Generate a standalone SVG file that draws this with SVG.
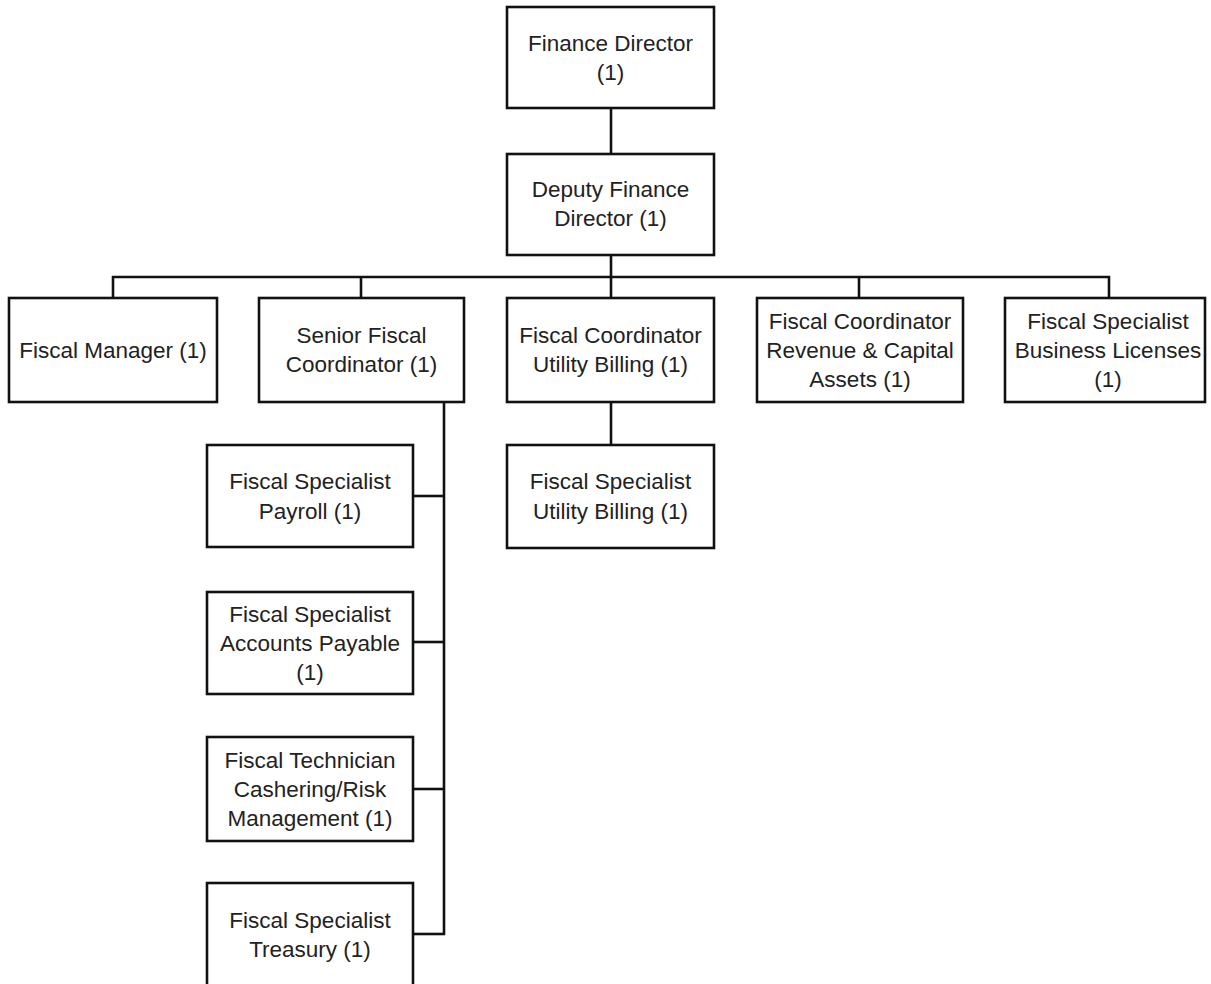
<svg xmlns="http://www.w3.org/2000/svg" width="1211" height="984" viewBox="0 0 1211 984">
<style>
rect.box{fill:#fff;stroke:#111;stroke-width:2.6}
text{font-family:"Liberation Sans",Arial,sans-serif;font-size:22.5px;fill:#222;text-anchor:middle;dominant-baseline:central}
.conn line{stroke:#111;stroke-width:2.6;fill:none}
</style>
<rect width="1211" height="984" fill="#fff"/>
<g class="conn" id="connectors">
<line x1="611" y1="108" x2="611" y2="154"/>
<line x1="611" y1="255" x2="611" y2="298"/>
<line x1="112" y1="277" x2="1110" y2="277"/>
<line x1="113" y1="276" x2="113" y2="298"/>
<line x1="361" y1="276" x2="361" y2="298"/>
<line x1="859" y1="276" x2="859" y2="298"/>
<line x1="1109" y1="276" x2="1109" y2="298"/>
<line x1="611" y1="402" x2="611" y2="445"/>
<line x1="444" y1="402" x2="444" y2="935"/>
<line x1="413" y1="496" x2="445" y2="496"/>
<line x1="413" y1="642" x2="445" y2="642"/>
<line x1="413" y1="789" x2="445" y2="789"/>
<line x1="413" y1="934" x2="445" y2="934"/>
</g>
<g id="finance-director"><rect class="box" x="507" y="7" width="207" height="101"/><text x="610.5" y="43">Finance Director</text><text x="610.5" y="72">(1)</text></g>
<g id="deputy-finance-director"><rect class="box" x="507" y="154" width="207" height="101"/><text x="610.5" y="189">Deputy Finance</text><text x="610.5" y="218">Director (1)</text></g>
<g id="fiscal-manager"><rect class="box" x="9" y="298" width="208" height="104"/><text x="113" y="350">Fiscal Manager (1)</text></g>
<g id="senior-fiscal-coordinator"><rect class="box" x="259" y="298" width="205" height="104"/><text x="361.5" y="335">Senior Fiscal</text><text x="361.5" y="364">Coordinator (1)</text></g>
<g id="fiscal-coordinator-ub"><rect class="box" x="507" y="298" width="207" height="104"/><text x="610.5" y="335">Fiscal Coordinator</text><text x="610.5" y="364">Utility Billing (1)</text></g>
<g id="fiscal-coordinator-revenue"><rect class="box" x="757" y="298" width="206" height="104"/><text x="860" y="321">Fiscal Coordinator</text><text x="860" y="350">Revenue &amp; Capital</text><text x="860" y="379">Assets (1)</text></g>
<g id="fiscal-specialist-bl"><rect class="box" x="1005" y="298" width="200" height="104"/><text x="1108" y="321">Fiscal Specialist</text><text x="1108" y="350">Business Licenses</text><text x="1108" y="379">(1)</text></g>
<g id="fiscal-specialist-ub"><rect class="box" x="507" y="445" width="207" height="103"/><text x="610.5" y="481">Fiscal Specialist</text><text x="610.5" y="511">Utility Billing (1)</text></g>
<g id="fiscal-specialist-payroll"><rect class="box" x="207" y="445" width="206" height="102"/><text x="310" y="481">Fiscal Specialist</text><text x="310" y="511">Payroll (1)</text></g>
<g id="fiscal-specialist-ap"><rect class="box" x="207" y="592" width="206" height="102"/><text x="310" y="614">Fiscal Specialist</text><text x="310" y="643">Accounts Payable</text><text x="310" y="672">(1)</text></g>
<g id="fiscal-technician"><rect class="box" x="207" y="737" width="206" height="104"/><text x="310" y="760">Fiscal Technician</text><text x="310" y="789">Cashering/Risk</text><text x="310" y="818">Management (1)</text></g>
<g id="fiscal-specialist-treasury"><rect class="box" x="207" y="883" width="206" height="110"/><text x="310" y="920">Fiscal Specialist</text><text x="310" y="949">Treasury (1)</text></g>
</svg>
